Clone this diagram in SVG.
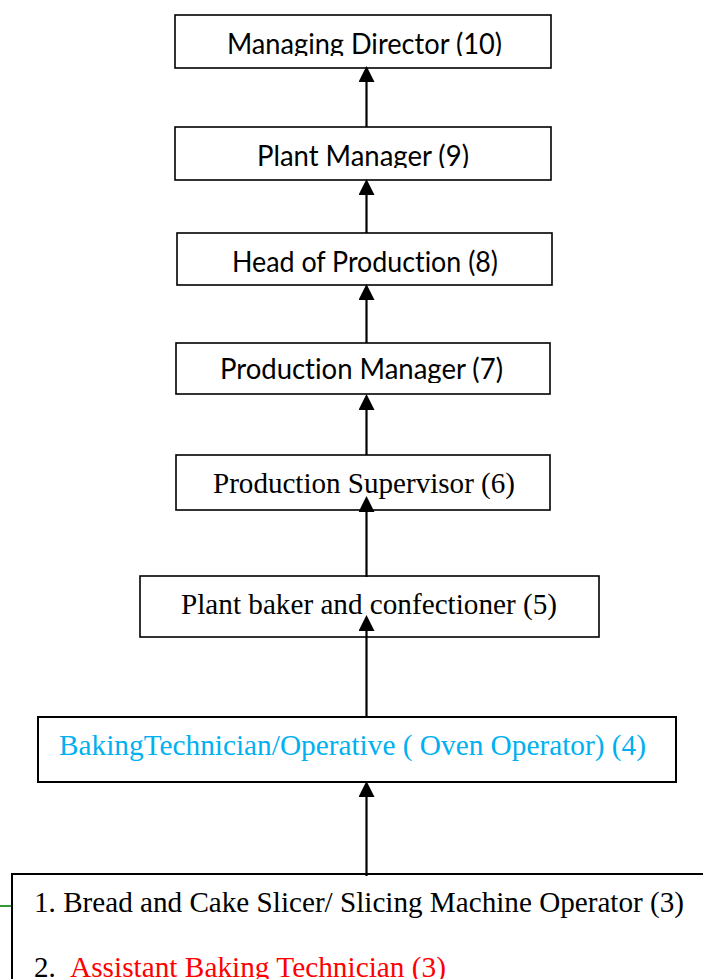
<svg xmlns="http://www.w3.org/2000/svg" width="703" height="979" viewBox="0 0 703 979">
  <style>
    .box { fill: #ffffff; stroke: #000000; stroke-width: 1.6; }
    .box2 { fill: #ffffff; stroke: #000000; stroke-width: 2; }
    .cal { font-family: Lato, "Open Sans", "Liberation Sans", sans-serif; font-size: 29px; fill: #000000; font-variant-ligatures: none; }
    .tnr { font-family: "Liberation Serif", "Times New Roman", serif; font-size: 29px; fill: #000000; }
    .conn { stroke: #000000; stroke-width: 2.2; fill: none; marker-end: url(#arrow); }
  </style>
  <defs>
    <marker id="arrow" markerUnits="userSpaceOnUse" markerWidth="16" markerHeight="16" refX="0" refY="7" orient="auto" viewBox="0 0 14 14">
      <path d="M0,0 L14,7 L0,14 Z" fill="#000000"/>
    </marker>
    <clipPath id="c1"><rect x="0" y="0" width="703" height="56"/></clipPath>
    <clipPath id="c2"><rect x="0" y="100" width="703" height="68"/></clipPath>
    <clipPath id="c4"><rect x="0" y="330" width="703" height="53"/></clipPath>
  </defs>

  <rect width="703" height="979" fill="#ffffff"/>

  <g id="n10">
    <rect class="box" x="175" y="15" width="376" height="53"/>
    <text class="cal" x="227" y="54" textLength="275" lengthAdjust="spacingAndGlyphs" clip-path="url(#c1)">Managing Director (10)</text>
  </g>
  <g id="n9">
    <rect class="box" x="175" y="127" width="376" height="53"/>
    <text class="cal" x="257" y="166" textLength="212" lengthAdjust="spacingAndGlyphs" clip-path="url(#c2)">Plant Manager (9)</text>
  </g>
  <g id="n8">
    <rect class="box" x="177" y="233" width="375" height="52"/>
    <text class="cal" x="232" y="272" textLength="266" lengthAdjust="spacingAndGlyphs">Head of Production (8)</text>
  </g>
  <g id="n7">
    <rect class="box" x="176" y="343" width="374" height="51"/>
    <text class="cal" x="220" y="379" textLength="283" lengthAdjust="spacingAndGlyphs" clip-path="url(#c4)">Production Manager (7)</text>
  </g>
  <g id="n6">
    <rect class="box" x="176" y="455" width="374" height="55"/>
    <text class="tnr" x="213" y="493" textLength="302" lengthAdjust="spacingAndGlyphs">Production Supervisor (6)</text>
  </g>
  <g id="n5">
    <rect class="box" x="140" y="576" width="459" height="61"/>
    <text class="tnr" x="181" y="614" textLength="376" lengthAdjust="spacingAndGlyphs">Plant baker and confectioner (5)</text>
  </g>
  <g id="n4">
    <rect class="box2" x="38" y="717" width="638" height="65"/>
    <text class="tnr" x="59" y="755" textLength="587" lengthAdjust="spacingAndGlyphs" style="fill:#00B0F0">BakingTechnician/Operative ( Oven Operator) (4)</text>
  </g>
  <g id="n3">
    <line x1="0" y1="906" x2="12" y2="906" stroke="#008000" stroke-width="1.6"/>
    <rect class="box2" x="12" y="874" width="720" height="140"/>
    <text class="tnr" x="34" y="912" textLength="650" lengthAdjust="spacingAndGlyphs">1. Bread and Cake Slicer/ Slicing Machine Operator (3)</text>
    <text class="tnr" x="34" y="977">2.</text>
    <text class="tnr" x="70" y="977" textLength="376" lengthAdjust="spacingAndGlyphs" style="fill:#FF0000">Assistant Baking Technician (3)</text>
  </g>

  <g id="connectors">
    <path class="conn" d="M366.5,127 V82"/>
    <path class="conn" d="M366.5,233 V195"/>
    <path class="conn" d="M366.5,343 V300"/>
    <path class="conn" d="M366.5,455 V410"/>
    <path class="conn" d="M366.5,577 V512"/>
    <path class="conn" d="M366.5,717 V631"/>
    <path class="conn" d="M366.5,876 V797"/>
  </g>
</svg>
